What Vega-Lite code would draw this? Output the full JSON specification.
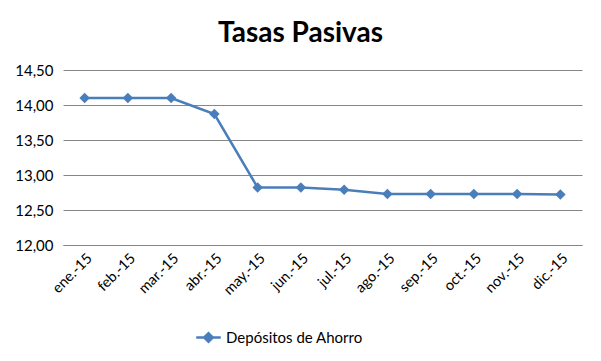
{
  "$schema": "https://vega.github.io/schema/vega-lite/v6.json",
  "width": 519,
  "height": 175,
  "autosize": {"type": "none"},
  "padding": {"left": 63, "top": 70, "right": 19, "bottom": 116},
  "background": "white",
  "title": {"text": "Tasas Pasivas", "fontSize": 28, "font": "Lato", "fontWeight": "bold", "color": "#000000", "anchor": "middle", "dx": -22, "offset": 15},
  "data": {"values": [
    {"mes": "ene.-15", "valor": 14.10, "serie": "Depósitos de Ahorro"},
    {"mes": "feb.-15", "valor": 14.10, "serie": "Depósitos de Ahorro"},
    {"mes": "mar.-15", "valor": 14.10, "serie": "Depósitos de Ahorro"},
    {"mes": "abr.-15", "valor": 13.87, "serie": "Depósitos de Ahorro"},
    {"mes": "may.-15", "valor": 12.82, "serie": "Depósitos de Ahorro"},
    {"mes": "jun.-15", "valor": 12.82, "serie": "Depósitos de Ahorro"},
    {"mes": "jul.-15", "valor": 12.79, "serie": "Depósitos de Ahorro"},
    {"mes": "ago.-15", "valor": 12.73, "serie": "Depósitos de Ahorro"},
    {"mes": "sep.-15", "valor": 12.73, "serie": "Depósitos de Ahorro"},
    {"mes": "oct.-15", "valor": 12.73, "serie": "Depósitos de Ahorro"},
    {"mes": "nov.-15", "valor": 12.73, "serie": "Depósitos de Ahorro"},
    {"mes": "dic.-15", "valor": 12.72, "serie": "Depósitos de Ahorro"}
  ]},
  "mark": {"type": "line", "strokeWidth": 2.5, "point": {"shape": "diamond", "size": 110, "filled": true, "opacity": 1}},
  "encoding": {
    "x": {"field": "mes", "type": "ordinal", "sort": null,
      "scale": {"type": "point", "padding": 0.5},
      "axis": {"title": null, "labelAngle": -45, "labelFont": "Lato", "labelFontSize": 14.5, "labelColor": "#000000",
        "ticks": false, "domainColor": "#868686", "domainWidth": 1, "labelPadding": 6, "grid": false}},
    "y": {"field": "valor", "type": "quantitative",
      "scale": {"domain": [12, 14.5], "zero": false, "nice": false},
      "axis": {"title": null, "values": [12, 12.5, 13, 13.5, 14, 14.5],
        "labelExpr": "replace(format(datum.value, '.2f'), '.', ',')",
        "labelFont": "Lato", "labelFontSize": 15, "labelColor": "#000000", "labelPadding": 10,
        "ticks": false, "domain": false, "grid": true, "gridColor": "#868686", "gridWidth": 1}},
    "color": {"field": "serie", "type": "nominal", "scale": {"range": ["#4A7EBB"]},
      "legend": {"title": null, "orient": "none", "legendX": 132, "legendY": 254, "direction": "horizontal",
        "symbolType": "M-1,0L1,0M-0.35,0L0,-0.35L0.35,0L0,0.35Z", "symbolSize": 600, "symbolStrokeWidth": 2.5,
        "symbolFillColor": "#4A7EBB", "symbolStrokeColor": "#4A7EBB",
        "labelFont": "Lato", "labelFontSize": 15, "labelColor": "#000000", "labelOffset": 4}}
  },
  "config": {"view": {"stroke": null}}
}
